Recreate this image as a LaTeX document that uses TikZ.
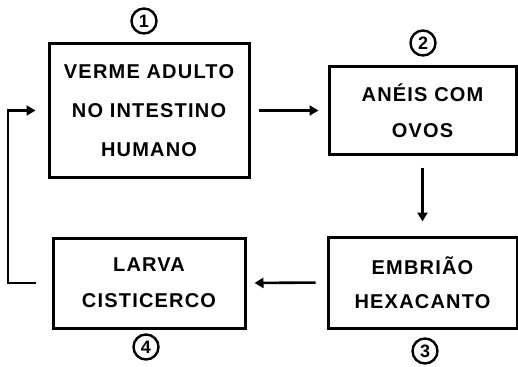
\documentclass[tikz,border=0pt]{standalone}
\usepackage{fontspec}
\setmainfont{Liberation Sans}[LetterSpace=6]
\usepackage{tikz}
\usetikzlibrary{arrows.meta,positioning}

\tikzset{
  etapa/.style={draw, rectangle, line width=3pt, align=center,
    font=\fontsize{20}{36}\selectfont\bfseries, inner sep=0pt},
  numero/.style={draw, circle, line width=2.4pt, minimum size=25pt,
    inner sep=0pt, font=\fontsize{18}{18}\selectfont\bfseries},
  seta/.style={line width=2.6pt, -{Triangle[length=9pt,width=10pt]}}
}

\begin{document}
\begin{tikzpicture}[x=1pt,y=-1pt]
            \useasboundingbox (0,0) rectangle (518,366);
            % etapas do ciclo
            \node[etapa, minimum width=200pt, minimum height=133pt, font=\fontsize{20}{39}\selectfont\bfseries] (verme) at (149,110.5) {VERME ADULTO\\NO INTESTINO\\HUMANO};
            \node[etapa, minimum width=187pt, minimum height=87pt] (aneis) at (422.5,110.5) {ANÉIS COM\\OVOS};
            \node[etapa, minimum width=189pt, minimum height=91pt, font=\fontsize{20}{34}\selectfont\bfseries] (embriao) at (422.5,282.5) {EMBRIÃO\\HEXACANTO};
            \node[etapa, minimum width=192pt, minimum height=90pt] (larva) at (149,283) {LARVA\\CISTICERCO};

            % numeros
            \node[numero] (n1) at (144,21) {1};
            \node[numero] (n2) at (423,43) {2};
            \node[numero] (n3) at (425,351) {3};
            \node[numero] (n4) at (146,347) {4};

            % setas
            \draw[seta, shorten <=8pt, shorten >=9pt] (verme.east) -- (aneis.west);
            \draw[seta, shorten <=12pt, shorten >=14pt] (aneis.south) -- (embriao.north);
            \draw[seta, shorten <=11pt, shorten >=8pt] (embriao.west) -- (larva.east);
            \coordinate (volta) at (8,283);
            \draw[seta, shorten <=16pt, shorten >=12pt] (larva.west) -- (volta) |- (verme.west);
\end{tikzpicture}
\end{document}
